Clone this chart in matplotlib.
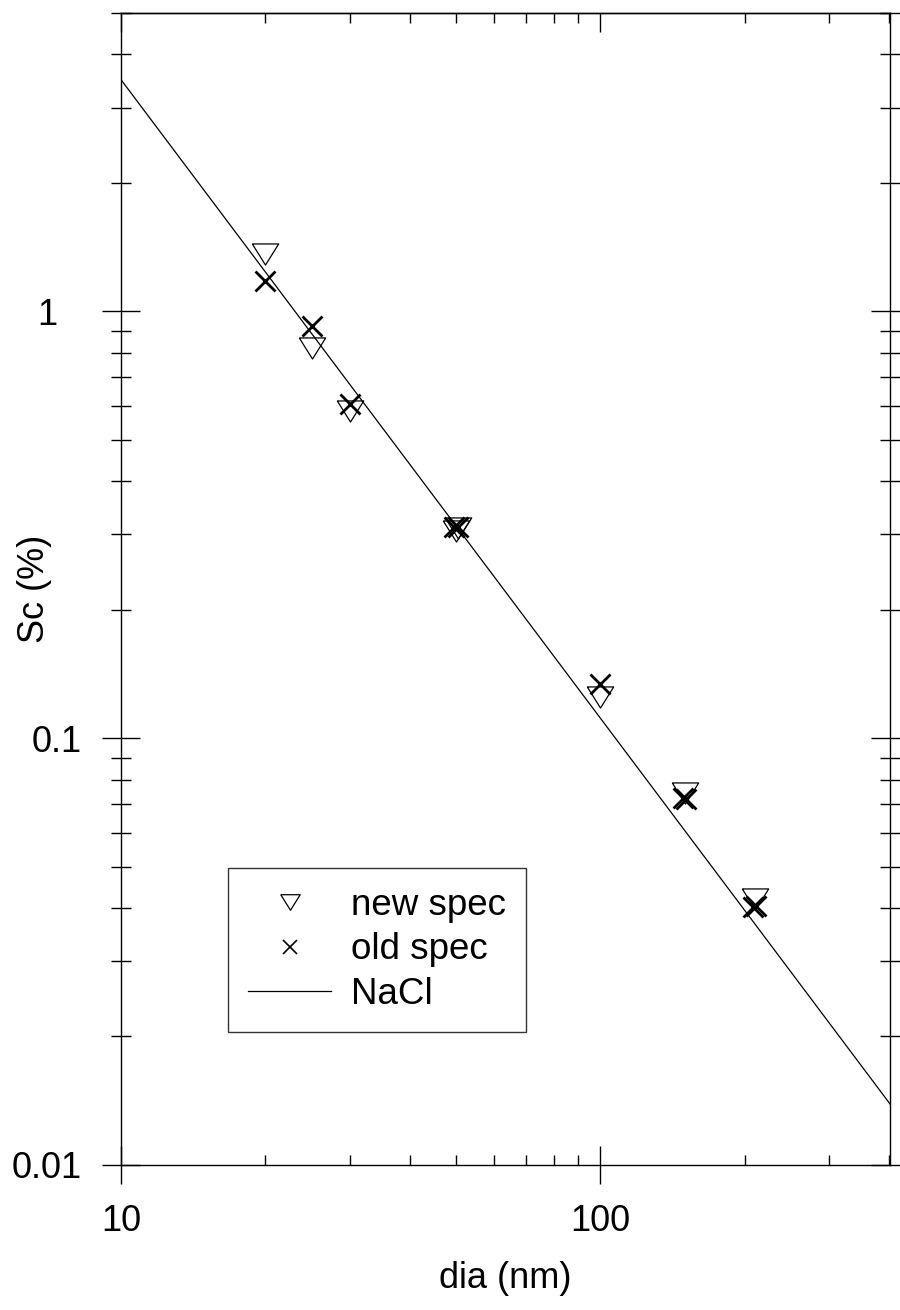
import numpy as np
import matplotlib
matplotlib.use("Agg")
import matplotlib.pyplot as plt
import matplotlib.transforms as mtrans
from matplotlib.ticker import LogLocator, FuncFormatter, NullFormatter
from matplotlib.lines import Line2D

plt.rcParams["font.family"] = ["Liberation Sans", "DejaVu Sans"]

# data
new_dia = [20, 25, 30, 50, 50.5, 100, 150, 210]
new_sc = [1.36, 0.82, 0.585, 0.306, 0.31, 0.125, 0.0745, 0.042]

old_dia = [20, 25, 30, 49.5, 50.5, 100, 149, 151, 208, 211]
old_sc = [1.18, 0.922, 0.605, 0.312, 0.313, 0.134, 0.0725, 0.0722, 0.0402, 0.0404]

nacl_dia = [10, 402]
nacl_sc = [3.49, 0.0139]

fig = plt.figure(figsize=(9, 13.1), dpi=100)
ax = fig.add_axes([0.1344, 0.1107, 0.8545, 0.8794])

# wide down-pointing triangle
tri = [(-1, 0.8), (1, 0.8), (0, -0.8), (-1, 0.8)]

ax.plot(nacl_dia, nacl_sc, color="black", lw=0.9)
ax.plot(new_dia, new_sc, ls="none", marker=tri, ms=19, mfc="none",
        mec="black", mew=0.9)
ax.plot(old_dia, old_sc, ls="none", marker="x", ms=14, mec="black", mew=2.0)

ax.set_xscale("log")
ax.set_yscale("log")
ax.set_xlim(10, 402)
ax.set_ylim(0.01, 5)

for sp in ax.spines.values():
    sp.set_linewidth(1.0)

ax.yaxis.set_major_locator(LogLocator(base=10))
ax.yaxis.set_minor_locator(LogLocator(base=10, subs=np.arange(2, 10)))
ax.yaxis.set_major_formatter(FuncFormatter(lambda v, p: "{:g}".format(v)))
ax.yaxis.set_minor_formatter(NullFormatter())
ax.xaxis.set_major_locator(LogLocator(base=10))
ax.xaxis.set_minor_locator(LogLocator(base=10, subs=np.arange(2, 10)))
ax.xaxis.set_major_formatter(FuncFormatter(lambda v, p: "{:g}".format(v)))
ax.xaxis.set_minor_formatter(NullFormatter())

ax.tick_params(axis="y", which="major", direction="inout", length=28, width=1.0,
               left=True, right=True, labelsize=26, pad=14)
ax.tick_params(axis="y", which="minor", direction="inout", length=14, width=1.0,
               left=True, right=True)
ax.tick_params(axis="x", which="major", direction="inout", length=28, width=1.0,
               top=False, labelsize=26, pad=14)
ax.tick_params(axis="x", which="minor", direction="in", length=7, width=1.0,
               top=False)

top = ax.secondary_xaxis("top")
top.xaxis.set_major_locator(LogLocator(base=10))
top.xaxis.set_minor_locator(LogLocator(base=10, subs=np.arange(2, 10)))
top.tick_params(which="major", direction="in", length=14, width=1.0, labeltop=False)
top.tick_params(which="minor", direction="in", length=7, width=1.0)
top.spines["top"].set_linewidth(1.0)

ax.set_xlabel("dia (nm)", fontsize=26, labelpad=16)
ax.set_ylabel("Sc (%)", fontsize=26)
ax.yaxis.set_label_coords(-0.09, 0.5)

handles = [
    Line2D([], [], ls="none", marker=tri, ms=14, mfc="none", mec="black", mew=0.9),
    Line2D([], [], ls="none", marker="x", ms=10, mec="black", mew=1.2),
    Line2D([], [], color="black", lw=0.9),
]
leg = ax.legend(handles, ["new spec", "old spec", "NaCl"], loc="lower left",
                bbox_to_anchor=(0.139, 0.1155), fontsize=26.5, frameon=True,
                fancybox=False, edgecolor="black", handlelength=2.25,
                handletextpad=0.55, labelspacing=0.25, borderpad=0.55,
                borderaxespad=0)
leg.get_frame().set_linewidth(1.0)

# the "1" label sits further left in the original
fig.canvas.draw()
for lbl in ax.yaxis.get_majorticklabels():
    if lbl.get_text() == "1":
        lbl.set_transform(lbl.get_transform() +
                          mtrans.ScaledTranslation(-25 / 100, 0, fig.dpi_scale_trans))

fig.savefig("out.png", dpi=100)
